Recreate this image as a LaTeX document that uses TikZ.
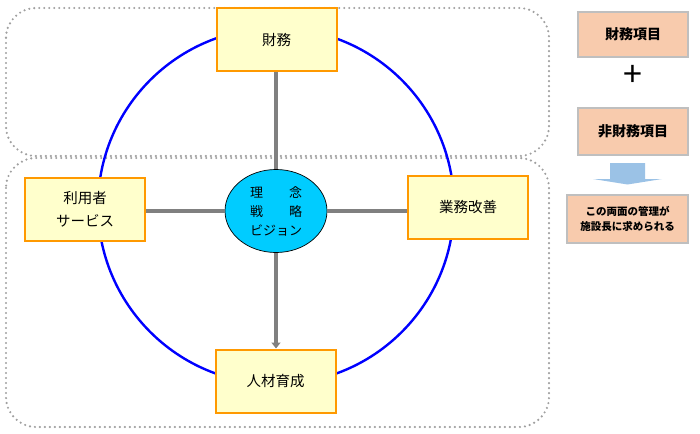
\documentclass[tikz,border=0pt]{standalone}
\usepackage{fontspec}
\setmainfont{Noto Sans CJK JP}
\usetikzlibrary{arrows.meta,shapes.geometric}
\definecolor{boxfill}{HTML}{FFFFCC}
\definecolor{boxdraw}{HTML}{FF9900}
\definecolor{peach}{HTML}{F8CBAD}
\definecolor{peachdraw}{HTML}{BFBFBF}
\definecolor{linkgray}{HTML}{808080}
\definecolor{dotgray}{HTML}{A0A0A0}
\definecolor{ringblue}{HTML}{0000FF}
\definecolor{corecyan}{HTML}{00CCFF}
\definecolor{arrowblue}{HTML}{9BC2E6}
\tikzset{
  area/.style={draw=dotgray, line width=2.4pt, line cap=round, dash pattern=on 0pt off 5pt, rounded corners=30pt},
  ybox/.style={draw=boxdraw, fill=boxfill, line width=2pt, minimum width=120pt, minimum height=63pt, inner sep=0pt, align=center, font=\fontsize{14.5}{23}\selectfont},
  pbox/.style={draw=peachdraw, fill=peach, line width=1.2pt, minimum width=110pt, inner sep=0pt, align=center, font=\bfseries\fontsize{14}{18}\selectfont},
  link/.style={draw=linkgray, line width=3.5pt},
}
\begin{document}
\begin{tikzpicture}[x=1pt,y=-1pt]
\useasboundingbox (0,0) rectangle (700,433);
% dotted areas
\draw[area] (6,8) rectangle (549,156);
\draw[area] (6,158) rectangle (549,427);
% ring
\draw[ringblue, line width=2.4pt] (276,206) circle (178pt);
% nodes
\node[ybox] (fin) at (276.5,40) {財務};
\node[ybox] (user) at (85,209.5) {利用者\\サービス};
\node[ybox] (ops) at (468,207.5) {業務改善};
\node[ybox] (hr) at (275.5,381) {人材育成};
\node[ellipse, draw=black, line width=0.7pt, fill=corecyan, minimum width=102pt, minimum height=83pt, inner sep=0pt, align=center, font=\fontsize{13}{19}\selectfont] (core) at (276,211) {理　　念\\戦　　略\\ビジョン};
% links
\draw[link] (core.north) -- (core.north |- fin.south);
\draw[link] (core.west) -- (core.west -| user.east);
\draw[link] (core.east) -- (core.east -| ops.west);
\draw[link, -{Triangle[width=9pt,length=6pt]}] (core.south) -- (core.south |- hr.north);
% right panel
\node[pbox, minimum height=45pt] (fitem) at (633,34.5) {財務項目};
\node[font=\fontsize{34}{34}\selectfont] (plus) at (633,76) {+};
\node[pbox, minimum height=47pt] (nfitem) at (633,131.5) {非財務項目};
\fill[arrowblue] (610,163) -- (645,163) -- (645,179) -- (662,179) -- (627.5,184.5) -- (593,179) -- (610,179) -- cycle;
\node[pbox, minimum width=121pt, minimum height=48pt, font=\bfseries\fontsize{10.5}{15}\selectfont] (need) at (627.5,219) {この両面の管理が\\施設長に求められる};
\end{tikzpicture}
\end{document}
